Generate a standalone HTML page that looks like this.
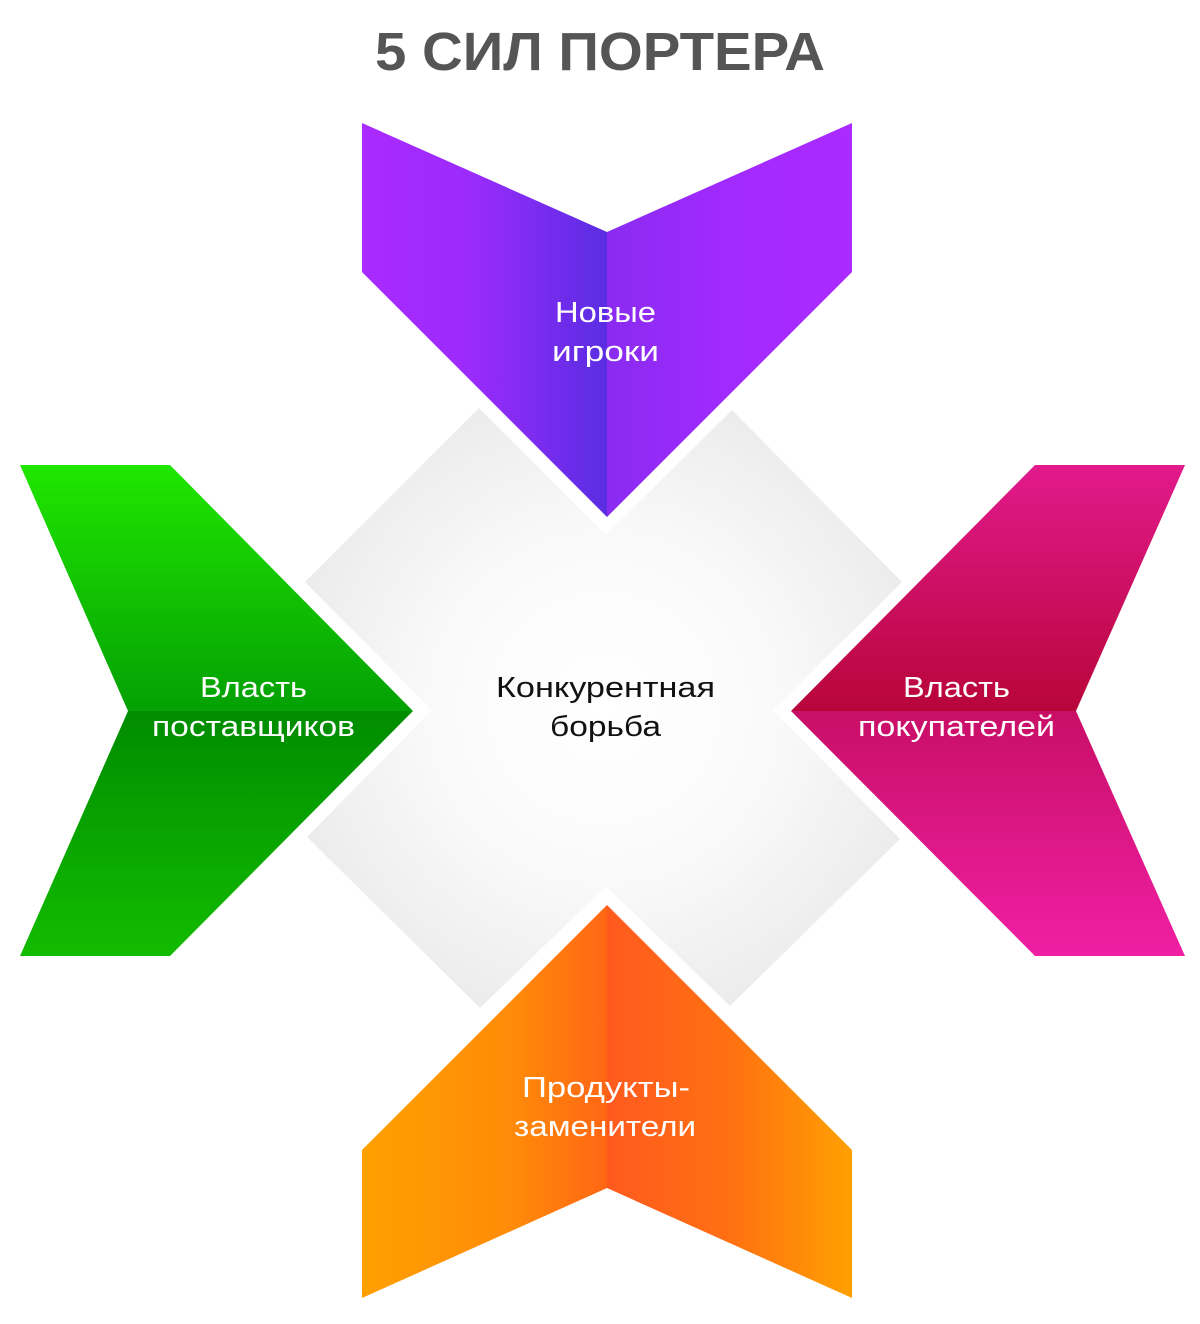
<!DOCTYPE html>
<html><head><meta charset="utf-8"><style>
html,body{margin:0;padding:0;background:#fff;}
svg{display:block}
</style></head><body>
<svg width="1200" height="1324" viewBox="0 0 1200 1324" xmlns="http://www.w3.org/2000/svg">
<defs>
<radialGradient id="gc" cx="604" cy="708" r="330" gradientUnits="userSpaceOnUse">
<stop offset="0" stop-color="#ffffff"/><stop offset="0.5" stop-color="#fafafa"/><stop offset="1" stop-color="#ebebeb"/></radialGradient>
<linearGradient id="pl" x1="362" y1="0" x2="607" y2="0" gradientUnits="userSpaceOnUse"><stop offset="0" stop-color="#aa2aff"/><stop offset="0.45" stop-color="#9a2bfb"/><stop offset="1" stop-color="#5a2de2"/></linearGradient>
<linearGradient id="pr" x1="607" y1="0" x2="852" y2="0" gradientUnits="userSpaceOnUse"><stop offset="0" stop-color="#8a2bf0"/><stop offset="0.5" stop-color="#a22aff"/><stop offset="1" stop-color="#aa2aff"/></linearGradient>
<linearGradient id="gt" x1="0" y1="465" x2="0" y2="711" gradientUnits="userSpaceOnUse"><stop offset="0" stop-color="#20e600"/><stop offset="1" stop-color="#04a004"/></linearGradient>
<linearGradient id="gb" x1="0" y1="711" x2="0" y2="956" gradientUnits="userSpaceOnUse"><stop offset="0" stop-color="#008c00"/><stop offset="1" stop-color="#12bc00"/></linearGradient>
<linearGradient id="kt" x1="0" y1="465" x2="0" y2="711" gradientUnits="userSpaceOnUse"><stop offset="0" stop-color="#e21a8c"/><stop offset="1" stop-color="#b8053a"/></linearGradient>
<linearGradient id="kb" x1="0" y1="711" x2="0" y2="956" gradientUnits="userSpaceOnUse"><stop offset="0" stop-color="#c80f66"/><stop offset="1" stop-color="#f01fa4"/></linearGradient>
<linearGradient id="ol" x1="362" y1="0" x2="607" y2="0" gradientUnits="userSpaceOnUse"><stop offset="0" stop-color="#ffa000"/><stop offset="0.6" stop-color="#ff8c08"/><stop offset="1" stop-color="#ff6614"/></linearGradient>
<linearGradient id="or" x1="607" y1="0" x2="852" y2="0" gradientUnits="userSpaceOnUse"><stop offset="0" stop-color="#ff5a1e"/><stop offset="0.5" stop-color="#ff7012"/><stop offset="1" stop-color="#ffa000"/></linearGradient>
</defs>
<text x="375" y="70" textLength="450" lengthAdjust="spacingAndGlyphs" font-family="Liberation Sans, sans-serif" font-weight="bold" font-size="54" fill="#555">5 СИЛ ПОРТЕРА</text>
<polygon fill="url(#gc)" points="479,408 606,535 732,410 902,582 773,710 900,839 730,1006 606,886 480,1008 307,837 432,710 305,582"/>
<polygon fill="url(#pl)" points="362,123 607,232 607,517 362,272"/>
<polygon fill="url(#pr)" points="607,232 852,123 852,272 607,517"/>
<polygon fill="url(#gt)" points="20,465 170,465 413,711 128,711"/>
<polygon fill="url(#gb)" points="128,711 413,711 170,956 20,956"/>
<polygon fill="url(#kt)" points="1035,465 1185,465 1076,711 791,711"/>
<polygon fill="url(#kb)" points="791,711 1076,711 1185,956 1035,956"/>
<polygon fill="url(#ol)" points="607,905 607,1188 362,1298 362,1150"/>
<polygon fill="url(#or)" points="607,905 852,1150 852,1298 607,1188"/>
<g font-family="Liberation Sans, sans-serif" font-size="29" fill="#fff">
<text x="555" y="322" textLength="101" lengthAdjust="spacingAndGlyphs">Новые</text><text x="552" y="361" textLength="107" lengthAdjust="spacingAndGlyphs">игроки</text>
<text x="200" y="697" textLength="107" lengthAdjust="spacingAndGlyphs">Власть</text><text x="152" y="736" textLength="203" lengthAdjust="spacingAndGlyphs">поставщиков</text>
<text x="903" y="697" textLength="107" lengthAdjust="spacingAndGlyphs">Власть</text><text x="858" y="736" textLength="197" lengthAdjust="spacingAndGlyphs">покупателей</text>
<text x="522" y="1097" textLength="168" lengthAdjust="spacingAndGlyphs">Продукты-</text><text x="514" y="1136" textLength="182" lengthAdjust="spacingAndGlyphs">заменители</text>
<text x="496" y="697" textLength="219" lengthAdjust="spacingAndGlyphs" fill="#111">Конкурентная</text><text x="550" y="736" textLength="111" lengthAdjust="spacingAndGlyphs" fill="#111">борьба</text>
</g>
</svg>
</body></html>
